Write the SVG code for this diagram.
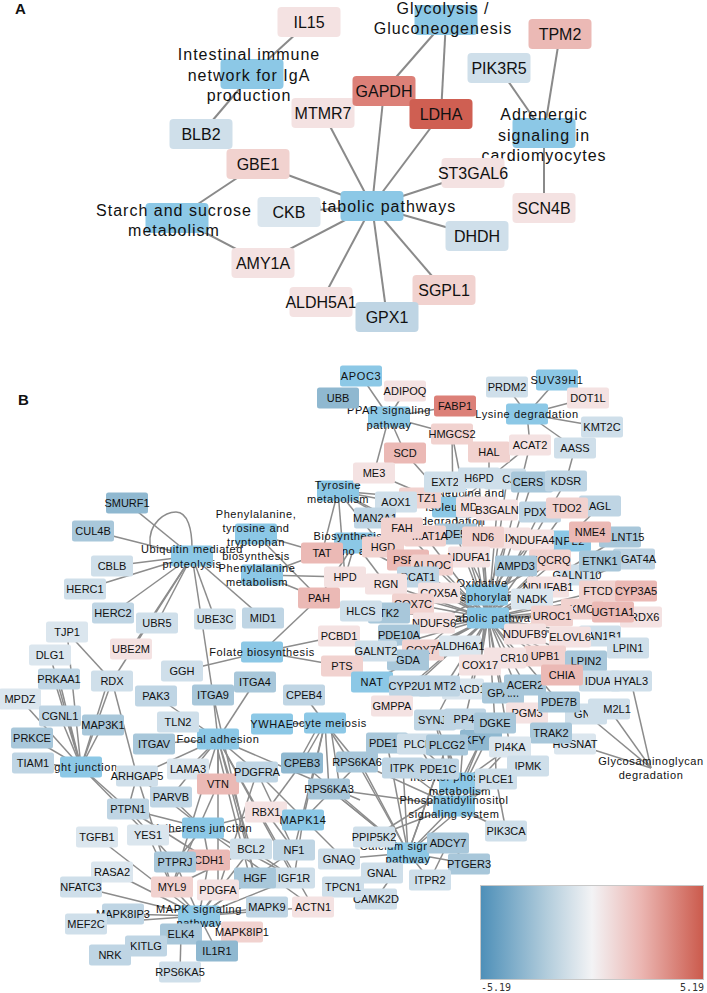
<svg xmlns="http://www.w3.org/2000/svg" width="707" height="993" viewBox="0 0 707 993">
<style>
text{font-family:"Liberation Sans",Arial,sans-serif;text-anchor:middle;dominant-baseline:central;fill:#111}
#A-nodes text{font-size:16px}
#B-nodes text{font-size:11px}
#A-nodes rect{x:-31.5px;y:-15px;width:63px;height:30px;rx:4px}
#B-nodes rect{x:-21px;y:-10.5px;width:42px;height:21px;rx:2.5px}
#A-nodes .p text{letter-spacing:1px}
#B-nodes .p text{letter-spacing:.6px}
#A-edges path{stroke:#8a8a8a;stroke-width:2;fill:none}
#B-edges path{stroke:#8c8c8c;stroke-width:1.5;fill:none}
.p rect{fill:#8cc8e6}
.b0 rect{fill:#dbe6ee}.b1 rect{fill:#cfdfea}.b2 rect{fill:#bfd5e4}.b3 rect{fill:#a8c7da}.b4 rect{fill:#8fb8d0}
.r0 rect{fill:#f4e2e2}.r1 rect{fill:#f1d2cf}.r2 rect{fill:#ebb9b5}.r3 rect{fill:#dc8078}.r4 rect{fill:#cf5f52}
.lt{font:bold 15px "Liberation Sans",Arial,sans-serif;text-anchor:start}
.sc{font:10px "DejaVu Sans Mono","Liberation Mono",monospace;fill:#333}
</style>
<defs><linearGradient id="cb"><stop offset="0" stop-color="#4d8fb8"/><stop offset=".3" stop-color="#b3cddc"/><stop offset=".5" stop-color="#f3f3f5"/><stop offset=".72" stop-color="#ebb6b2"/><stop offset="1" stop-color="#cb5a4c"/></linearGradient></defs>
<rect width="707" height="993" fill="#fff"/>
<text class="lt" x="15" y="8">A</text>
<text class="lt" x="18" y="399">B</text>
<g id="A-edges">
<path d="M309 22L252 74"/><path d="M252 74L201 134"/><path d="M446 20L384 91"/><path d="M446 20L441 114"/><path d="M499 68L544 133"/><path d="M560 34L544 133"/><path d="M544 133L544 208"/>
<path d="M323 113L372 206"/><path d="M384 91L372 206"/><path d="M441 114L372 206"/><path d="M258 164L372 206"/><path d="M473 173L372 206"/><path d="M477 236L372 206"/><path d="M444 290L372 206"/><path d="M387 317L372 206"/><path d="M321 302L372 206"/><path d="M263 263L372 206"/><path d="M289 212L372 206"/><path d="M258 164L177 218"/><path d="M263 263L177 218"/>
</g>
<g id="A-nodes">
<g id="a-glycolysis" class="p" transform="translate(446,20)"><rect/><text x="-3" y="-12">Glycolysis /</text><text x="-3" y="8">Gluconeogenesis</text></g>
<g id="a-intestinal" class="p" transform="translate(252,74)"><rect/><text x="-3" y="-20">Intestinal immune</text><text x="-3" y="1">network for IgA</text><text x="-3" y="21">production</text></g>
<g id="a-adrenergic" class="p" transform="translate(544,133)"><rect/><text y="-19">Adrenergic</text><text y="2">signaling in</text><text y="22">cardiomyocytes</text></g>
<g id="a-starch" class="p" transform="translate(177,218)"><rect/><text x="-3" y="-8">Starch and sucrose</text><text x="-3" y="12">metabolism</text></g>
<g id="a-metabolic" class="p" transform="translate(372,206)"><rect/><text x="5">Metabolic pathways</text></g>
<g id="a-IL15" class="r0" transform="translate(309,22)"><rect/><text>IL15</text></g>
<g id="a-TPM2" class="r2" transform="translate(560,34)"><rect/><text>TPM2</text></g>
<g id="a-PIK3R5" class="b1" transform="translate(499,68)"><rect/><text>PIK3R5</text></g>
<g id="a-MTMR7" class="r0" transform="translate(323,113)"><rect/><text>MTMR7</text></g>
<g id="a-GAPDH" class="r3" transform="translate(384,91)"><rect/><text>GAPDH</text></g>
<g id="a-LDHA" class="r4" transform="translate(441,114)"><rect/><text>LDHA</text></g>
<g id="a-BLB2" class="b1" transform="translate(201,134)"><rect/><text>BLB2</text></g>
<g id="a-GBE1" class="r1" transform="translate(258,164)"><rect/><text>GBE1</text></g>
<g id="a-ST3GAL6" class="r0" transform="translate(473,173)"><rect/><text>ST3GAL6</text></g>
<g id="a-CKB" class="b0" transform="translate(289,212)"><rect/><text>CKB</text></g>
<g id="a-SCN4B" class="r0" transform="translate(544,208)"><rect/><text>SCN4B</text></g>
<g id="a-DHDH" class="b1" transform="translate(477,236)"><rect/><text>DHDH</text></g>
<g id="a-AMY1A" class="r0" transform="translate(263,263)"><rect/><text>AMY1A</text></g>
<g id="a-SGPL1" class="r1" transform="translate(444,290)"><rect/><text>SGPL1</text></g>
<g id="a-ALDH5A1" class="r0" transform="translate(321,302)"><rect/><text>ALDH5A1</text></g>
<g id="a-GPX1" class="b2" transform="translate(387,317)"><rect/><text>GPX1</text></g>
</g>
<g id="B-edges">
<path d="M527 414L507 387"/><path d="M527 414L557 380"/><path d="M527 414L588 398"/><path d="M527 414L602 427"/><path d="M527 414L575 448"/><path d="M527 414L530 445"/>
<path d="M389 417L361 376"/><path d="M389 417L405 391"/><path d="M389 417L455 406"/><path d="M389 417L452 434"/><path d="M389 417L405 453"/><path d="M389 417L374 473"/>
<path d="M452 434L453 507"/><path d="M452 434L488 618"/><path d="M489 452L489 500"/><path d="M530 445L453 507"/><path d="M530 445L488 618"/><path d="M575 448L566 481"/><path d="M405 453L453 507"/><path d="M374 473L453 507"/>
<path d="M566 481L488 618"/><path d="M532 482L488 618"/><path d="M507 479L488 618"/><path d="M540 512L488 618"/><path d="M567 508L488 618"/><path d="M600 506L488 618"/><path d="M590 532L488 618"/><path d="M570 541L488 618"/><path d="M497 510L488 618"/><path d="M477 507L488 618"/><path d="M479 478L488 618"/><path d="M445 482L488 618"/><path d="M620 537L488 618"/><path d="M600 561L488 618"/><path d="M634 559L488 618"/><path d="M577 575L488 618"/><path d="M600 591L488 618"/><path d="M636 591L488 618"/><path d="M582 609L488 618"/><path d="M613 612L488 618"/><path d="M641 617L488 618"/><path d="M552 616L488 618"/><path d="M570 637L488 618"/><path d="M600 636L488 618"/><path d="M628 648L488 618"/><path d="M586 661L488 618"/><path d="M562 675L488 618"/><path d="M600 681L488 618"/><path d="M545 656L488 618"/><path d="M517 658L488 618"/><path d="M525 634L488 618"/><path d="M525 685L488 618"/><path d="M503 693L488 618"/><path d="M559 702L488 618"/><path d="M527 713L488 618"/><path d="M480 665L488 618"/><path d="M469 689L488 618"/><path d="M445 686L488 618"/><path d="M410 686L488 618"/><path d="M372 682L488 618"/><path d="M392 706L488 618"/><path d="M408 660L488 618"/><path d="M376 651L488 618"/><path d="M399 635L488 618"/><path d="M389 613L488 618"/><path d="M361 611L488 618"/><path d="M386 584L488 618"/><path d="M345 577L488 618"/><path d="M408 560L488 618"/><path d="M418 577L488 618"/><path d="M432 565L488 618"/><path d="M383 547L488 618"/><path d="M402 528L488 618"/><path d="M425 536L488 618"/><path d="M456 534L488 618"/><path d="M516 566L488 618"/><path d="M532 599L488 618"/><path d="M460 646L488 618"/><path d="M423 650L488 618"/><path d="M434 623L488 618"/><path d="M413 604L488 618"/><path d="M439 593L488 618"/><path d="M495 723L488 618"/><path d="M465 719L488 618"/><path d="M435 720L488 618"/><path d="M510 747L488 618"/><path d="M483 537L487 595"/><path d="M469 557L487 595"/><path d="M439 593L487 595"/><path d="M413 604L487 595"/><path d="M434 623L487 595"/><path d="M533 540L487 595"/><path d="M548 587L487 595"/><path d="M550 560L487 595"/><path d="M525 634L487 595"/><path d="M480 665L487 595"/><path d="M423 650L487 595"/><path d="M507 538L487 595"/>
<path d="M338 491L396 502"/><path d="M338 491L420 498"/><path d="M338 491L322 553"/><path d="M338 491L345 577"/><path d="M338 491L402 528"/><path d="M338 491L383 547"/><path d="M338 491L425 536"/><path d="M355 543L322 553"/><path d="M355 543L345 577"/><path d="M355 543L386 584"/><path d="M355 543L408 560"/><path d="M355 543L418 577"/><path d="M355 543L432 565"/><path d="M355 543L425 536"/><path d="M355 543L319 598"/>
<path d="M256 534L322 553"/><path d="M256 534L319 598"/><path d="M262 575L322 553"/><path d="M262 575L345 577"/><path d="M262 575L319 598"/><path d="M262 652L319 598"/><path d="M262 652L339 636"/><path d="M262 652L342 666"/><path d="M262 652L182 671"/>
<path d="M192 556L127 503"/><path d="M192 556L93 531"/><path d="M192 556L112 566"/><path d="M192 556L85 589"/><path d="M192 556L113 613"/><path d="M192 556L157 623"/><path d="M192 556L131 649"/><path d="M192 556L112 681"/><path d="M192 556L215 619"/><path d="M192 556L263 618"/><path d="M192 556L213 695"/><path d="M150 545C148 522 166 512 176 512C188 512 192 530 192 548"/>
<path d="M81 767L67 632"/><path d="M67 632L112 681"/><path d="M81 767L50 655"/><path d="M81 767L59 679"/><path d="M81 767L54 679"/><path d="M81 767L20 699"/><path d="M81 767L60 716"/><path d="M81 767L103 725"/><path d="M81 767L32 738"/><path d="M81 767L33 763"/><path d="M81 767L112 681"/><path d="M81 767L108 681"/><path d="M81 767L128 809"/><path d="M81 767L148 835"/><path d="M112 681L137 776"/><path d="M137 776L128 809"/><path d="M137 776L172 887"/><path d="M128 809L203 828"/><path d="M128 809L209 860"/><path d="M128 809L175 862"/><path d="M148 835L203 828"/><path d="M148 835L172 887"/>
<path d="M218 739L213 695"/><path d="M218 739L255 682"/><path d="M218 739L178 722"/><path d="M218 739L156 696"/><path d="M218 739L154 744"/><path d="M218 739L188 769"/><path d="M218 739L171 797"/><path d="M218 739L218 784"/><path d="M218 739L257 772"/><path d="M218 739L251 849"/><path d="M218 739L255 878"/><path d="M215 739L250 878"/><path d="M218 739L294 878"/><path d="M218 739L172 887"/><path d="M218 739L218 890"/><path d="M218 739L313 907"/><path d="M218 739L360 800"/><path d="M218 739L137 776"/><path d="M257 772L294 850"/><path d="M257 772L218 890"/><path d="M257 772L345 860"/><path d="M213 695L255 878"/>
<path d="M203 828L175 862"/><path d="M203 828L209 860"/><path d="M203 828L313 907"/><path d="M203 828L294 878"/><path d="M203 828L171 797"/><path d="M203 828L137 776"/><path d="M218 784L172 887"/><path d="M266 812L203 828"/><path d="M266 812L294 850"/><path d="M302 763L266 812"/><path d="M251 849L172 887"/><path d="M251 849L294 878"/>
<path d="M325 723L304 695"/><path d="M325 723L302 763"/><path d="M325 723L357 762"/><path d="M325 723L329 789"/><path d="M325 723L303 820"/><path d="M325 723L272 724"/><path d="M320 723L298 763"/><path d="M330 723L340 789"/><path d="M325 723L294 850"/><path d="M325 723L350 762"/><path d="M303 820L294 878"/><path d="M303 820L360 762"/><path d="M329 789L408 853"/><path d="M357 762L408 853"/><path d="M357 762L454 806"/><path d="M329 789L454 806"/>
<path d="M199 916L97 837"/><path d="M199 916L112 872"/><path d="M199 916L81 887"/><path d="M199 916L123 914"/><path d="M199 916L86 924"/><path d="M199 916L181 934"/><path d="M199 916L146 946"/><path d="M199 916L172 887"/><path d="M199 916L218 890"/><path d="M199 916L255 878"/><path d="M199 916L267 907"/><path d="M199 916L313 907"/><path d="M199 916L217 951"/><path d="M199 916L242 932"/><path d="M199 916L209 860"/><path d="M199 916L175 862"/><path d="M199 916L251 849"/><path d="M199 916L294 850"/><path d="M199 916L294 878"/><path d="M181 934L180 972"/><path d="M146 946L181 934"/>
<path d="M408 853L374 837"/><path d="M408 853L339 859"/><path d="M408 853L382 873"/><path d="M408 853L430 880"/><path d="M408 853L469 864"/><path d="M408 853L448 843"/><path d="M408 853L343 887"/><path d="M408 853L376 899"/><path d="M408 853L387 743"/><path d="M408 853L438 769"/><path d="M408 853L403 768"/><path d="M408 853L447 745"/><path d="M408 853L496 779"/><path d="M408 853L454 806"/><path d="M408 853L360 762"/><path d="M408 853L302 763"/><path d="M408 853L329 789"/><path d="M430 880L448 843"/><path d="M469 864L448 843"/>
<path d="M454 806L506 831"/><path d="M454 806L374 837"/><path d="M454 806L403 768"/><path d="M454 806L447 745"/><path d="M454 806L496 779"/><path d="M454 806L510 747"/><path d="M454 806L528 766"/><path d="M454 806L435 720"/><path d="M454 806L418 744"/><path d="M454 806L481 740"/><path d="M454 806L495 723"/><path d="M460 783L510 747"/><path d="M460 783L447 745"/><path d="M460 783L403 768"/><path d="M460 783L435 720"/><path d="M460 783L418 744"/><path d="M460 783L528 766"/><path d="M460 783L465 719"/><path d="M460 783L481 740"/><path d="M506 831L496 779"/><path d="M496 779L495 723"/><path d="M460 783L374 837"/>
<path d="M651 768L631 681"/><path d="M651 768L586 714"/><path d="M651 768L609 709"/><path d="M651 768L575 744"/>
</g>
<g id="B-nodes">
<g id="n-ppar" class="p" transform="translate(389,417)"><rect/><text y="-7">PPAR signaling</text><text y="8">pathway</text></g>
<g id="n-lysine" class="p" transform="translate(527,414)"><rect/><text>Lysine degradation</text></g>
<g id="n-tyrosine" class="p" transform="translate(338,491)"><rect/><text y="-6">Tyrosine</text><text y="8">metabolism</text></g>
<g id="n-valine" class="p" transform="translate(453,507)"><rect/><text y="-14">Valine, leucine and</text><text>isoleucine</text><text y="14">degradation</text></g>
<g id="n-biosyn" class="p" transform="translate(355,543)"><rect/><text y="-7">Biosynthesis of</text><text y="8">amino acids</text></g>
<g id="n-phetyr" class="p" transform="translate(256,534)"><rect/><text y="-20">Phenylalanine,</text><text y="-6">tyrosine and</text><text y="8">tryptophan</text><text y="22">biosynthesis</text></g>
<g id="n-phem" class="p" transform="translate(262,575)"><rect/><text x="-5" y="-7">Phenylalanine</text><text x="-5" y="7">metabolism</text></g>
<g id="n-oxphos" class="p" transform="translate(487,595)"><rect/><text x="-5" y="-12">Oxidative</text><text x="-3" y="2">phosphorylation</text></g>
<g id="n-metab" class="p" transform="translate(488,618)"><rect/><text x="1">Metabolic pathways</text></g>
<g id="n-ubiq" class="p" transform="translate(192,556)"><rect/><text y="-7">Ubiquitin mediated</text><text y="8">proteolysis</text></g>
<g id="n-folate" class="p" transform="translate(262,652)"><rect/><text>Folate biosynthesis</text></g>
<g id="n-tight" class="p" transform="translate(81,767)"><rect/><text>Tight junction</text></g>
<g id="n-focal" class="p" transform="translate(218,739)"><rect/><text>Focal adhesion</text></g>
<g id="n-oocyte" class="p" transform="translate(325,723)"><rect/><text>Oocyte meiosis</text></g>
<g id="n-adherens" class="p" transform="translate(203,828)"><rect/><text>Adherens junction</text></g>
<g id="n-inositol" class="p" transform="translate(460,783)"><rect/><text y="-6">Inositol phosphate</text><text y="8">metabolism</text></g>
<g id="n-pi" class="p" transform="translate(454,806)"><rect/><text y="-6">Phosphatidylinositol</text><text y="8">signaling system</text></g>
<g id="n-calcium" class="p" transform="translate(408,853)"><rect/><text y="-7">Calcium signaling</text><text y="6">pathway</text></g>
<g id="n-mapk" class="p" transform="translate(199,916)"><rect/><text y="-7">MAPK signaling</text><text y="7">pathway</text></g>
<g id="n-gag" class="p" transform="translate(651,768)"><text y="-7">Glycosaminoglycan</text><text y="7">degradation</text></g>
<g id="n-APOC3" class="p" transform="translate(361,376)"><rect/><text>APOC3</text></g>
<g id="n-UBB" class="b4" transform="translate(338,398)"><rect/><text>UBB</text></g>
<g id="n-ADIPOQ" class="r0" transform="translate(405,391)"><rect/><text>ADIPOQ</text></g>
<g id="n-FABP1" class="r3" transform="translate(455,406)"><rect/><text>FABP1</text></g>
<g id="n-PRDM2" class="b1" transform="translate(507,387)"><rect/><text>PRDM2</text></g>
<g id="n-SUV39H1" class="p" transform="translate(557,380)"><rect/><text>SUV39H1</text></g>
<g id="n-DOT1L" class="r0" transform="translate(588,398)"><rect/><text>DOT1L</text></g>
<g id="n-KMT2C" class="b1" transform="translate(602,427)"><rect/><text>KMT2C</text></g>
<g id="n-HMGCS2" class="r1" transform="translate(452,434)"><rect/><text>HMGCS2</text></g>
<g id="n-SCD" class="r2" transform="translate(405,453)"><rect/><text>SCD</text></g>
<g id="n-HAL" class="r1" transform="translate(489,452)"><rect/><text>HAL</text></g>
<g id="n-ACAT2" class="r0" transform="translate(530,445)"><rect/><text>ACAT2</text></g>
<g id="n-AASS" class="b1" transform="translate(575,448)"><rect/><text>AASS</text></g>
<g id="n-ME3" class="r0" transform="translate(374,473)"><rect/><text>ME3</text></g>
<g id="n-TZ1" class="r1" transform="translate(420,498)"><rect/><text x="7">TZ1</text></g>
<g id="n-AOX1" class="b1" transform="translate(396,502)"><rect/><text>AOX1</text></g>
<g id="n-EXT2" class="b1" transform="translate(445,482)"><rect/><text>EXT2</text></g>
<g id="n-CA" class="b1" transform="translate(505,479)"><rect/><text x="5">CA</text></g>
<g id="n-H6PD" class="b1" transform="translate(479,478)"><rect/><text>H6PD</text></g>
<g id="n-CERS" class="b3" transform="translate(532,482)"><rect/><text x="-4">CERS</text></g>
<g id="n-KDSR" class="b2" transform="translate(566,481)"><rect/><text>KDSR</text></g>
<g id="n-MAN2A1" class="b2" transform="translate(375,518)"><rect/><text>MAN2A1</text></g>
<g id="n-MDH" class="r0" transform="translate(477,507)"><rect/><text x="-4">MDH</text></g>
<g id="n-B3GALN" class="r0" transform="translate(497,510)"><rect/><text>B3GALN</text></g>
<g id="n-PDX" class="b2" transform="translate(540,512)"><rect/><text x="-5">PDX</text></g>
<g id="n-AGL" class="b2" transform="translate(600,506)"><rect/><text>AGL</text></g>
<g id="n-TDO2" class="r1" transform="translate(567,508)"><rect/><text>TDO2</text></g>
<g id="n-DE5" class="b3" transform="translate(456,534)"><rect/><text x="-4">PDE5</text></g>
<g id="n-MAT1A" class="r1" transform="translate(425,536)"><rect/><text x="5">MAT1A</text></g>
<g id="n-IX" class="r0" transform="translate(510,538)"><rect/><text>IX</text></g>
<g id="n-ND6" class="r1" transform="translate(483,537)"><rect/><text>ND6</text></g>
<g id="n-LNT15" class="b3" transform="translate(620,537)"><rect/><text>GALNT15</text></g>
<g id="n-NPL" class="p" transform="translate(570,541)"><rect/><text>NPL2</text></g>
<g id="n-NDUFA4" class="r0" transform="translate(533,540)"><rect/><text>NDUFA4</text></g>
<g id="n-NME4" class="r2" transform="translate(590,532)"><rect/><text>NME4</text></g>
<g id="n-FAH" class="r1" transform="translate(402,528)"><rect/><text>FAH</text></g>
<g id="n-HGD" class="r1" transform="translate(383,547)"><rect/><text>HGD</text></g>
<g id="n-TAT" class="r2" transform="translate(322,553)"><rect/><text>TAT</text></g>
<g id="n-NDUFA1" class="r0" transform="translate(469,557)"><rect/><text>NDUFA1</text></g>
<g id="n-PSPH" class="r2" transform="translate(408,560)"><rect/><text>PSPH</text></g>
<g id="n-ALDOC" class="r1" transform="translate(432,565)"><rect/><text>ALDOC</text></g>
<g id="n-GALNT10" class="b1" transform="translate(577,575)"><rect/><text>GALNT10</text></g>
<g id="n-UQCRQ" class="r1" transform="translate(550,560)"><rect/><text>UQCRQ</text></g>
<g id="n-AMPD3" class="b3" transform="translate(516,566)"><rect/><text>AMPD3</text></g>
<g id="n-MGAT4A" class="b2" transform="translate(634,559)"><rect/><text>MGAT4A</text></g>
<g id="n-ETNK1" class="b3" transform="translate(600,561)"><rect/><text>ETNK1</text></g>
<g id="n-HPD" class="r0" transform="translate(345,577)"><rect/><text>HPD</text></g>
<g id="n-BCAT1" class="b2" transform="translate(418,577)"><rect/><text>BCAT1</text></g>
<g id="n-RGN" class="r0" transform="translate(386,584)"><rect/><text>RGN</text></g>
<g id="n-NDUFAB1" class="r0" transform="translate(548,587)"><rect/><text>NDUFAB1</text></g>
<g id="n-NADK" class="b0" transform="translate(532,599)"><rect/><text>NADK</text></g>
<g id="n-FTCD" class="r1" transform="translate(600,591)"><rect/><text x="-2">FTCD</text></g>
<g id="n-CYP3A5" class="r2" transform="translate(636,591)"><rect/><text>CYP3A5</text></g>
<g id="n-KMO" class="r1" transform="translate(582,609)"><rect/><text>KMO</text></g>
<g id="n-PRDX6" class="r0" transform="translate(641,617)"><rect/><text>PRDX6</text></g>
<g id="n-UGT1A1" class="r2" transform="translate(613,612)"><rect/><text>UGT1A1</text></g>
<g id="n-UROC1" class="r1" transform="translate(552,616)"><rect/><text>UROC1</text></g>
<g id="n-COX5A" class="r0" transform="translate(439,593)"><rect/><text>COX5A</text></g>
<g id="n-COX7C" class="r1" transform="translate(413,604)"><rect/><text>COX7C</text></g>
<g id="n-PAH" class="r2" transform="translate(319,598)"><rect/><text>PAH</text></g>
<g id="n-TK2" class="b3" transform="translate(389,613)"><rect/><text>TK2</text></g>
<g id="n-HLCS" class="b1" transform="translate(361,611)"><rect/><text>HLCS</text></g>
<g id="n-NDUFS6" class="r0" transform="translate(434,623)"><rect/><text>NDUFS6</text></g>
<g id="n-PDE10A" class="b3" transform="translate(399,635)"><rect/><text>PDE10A</text></g>
<g id="n-PCBD1" class="r0" transform="translate(339,636)"><rect/><text>PCBD1</text></g>
<g id="n-NDUFB9" class="r0" transform="translate(525,634)"><rect/><text>NDUFB9</text></g>
<g id="n-MAN1B1" class="b1" transform="translate(600,636)"><rect/><text>MAN1B1</text></g>
<g id="n-ELOVL6" class="r0" transform="translate(570,637)"><rect/><text>ELOVL6</text></g>
<g id="n-LPIN1" class="b1" transform="translate(628,648)"><rect/><text>LPIN1</text></g>
<g id="n-COX" class="r1" transform="translate(423,650)"><rect/><text x="-2">COX7</text></g>
<g id="n-GDA" class="b3" transform="translate(408,660)"><rect/><text>GDA</text></g>
<g id="n-GALNT2" class="b1" transform="translate(376,651)"><rect/><text>GALNT2</text></g>
<g id="n-ALDH6A1" class="b0" transform="translate(460,646)"><rect/><text>ALDH6A1</text></g>
<g id="n-UPB1" class="r1" transform="translate(545,656)"><rect/><text>UPB1</text></g>
<g id="n-CR10" class="r0" transform="translate(505,658)"><rect/><text x="9">CR10</text></g>
<g id="n-PTS" class="r1" transform="translate(342,666)"><rect/><text>PTS</text></g>
<g id="n-COX17" class="r0" transform="translate(480,665)"><rect/><text>COX17</text></g>
<g id="n-LPIN2" class="b3" transform="translate(586,661)"><rect/><text>LPIN2</text></g>
<g id="n-IDUA" class="b1" transform="translate(600,681)"><rect/><text x="-2">IDUA</text></g>
<g id="n-HYAL3" class="b1" transform="translate(631,681)"><rect/><text>HYAL3</text></g>
<g id="n-NAT" class="p" transform="translate(372,682)"><rect/><text>NAT</text></g>
<g id="n-HACD1" class="b0" transform="translate(463,689)"><rect/><text x="4">HACD1</text></g>
<g id="n-MT2" class="b2" transform="translate(439,686)"><rect/><text x="6">MT2</text></g>
<g id="n-CYP2U1" class="b2" transform="translate(410,686)"><rect/><text>CYP2U1</text></g>
<g id="n-GPAM" class="b3" transform="translate(503,693)"><rect/><text>GPAM</text></g>
<g id="n-ACER2" class="b3" transform="translate(525,685)"><rect/><text>ACER2</text></g>
<g id="n-CHIA" class="r2" transform="translate(562,675)"><rect/><text>CHIA</text></g>
<g id="n-GMPPA" class="r0" transform="translate(392,706)"><rect/><text>GMPPA</text></g>
<g id="n-PGM3" class="r0" transform="translate(527,713)"><rect/><text>PGM3</text></g>
<g id="n-GNS" class="b1" transform="translate(586,714)"><rect/><text>GNS</text></g>
<g id="n-M2L1" class="b1" transform="translate(609,709)"><rect/><text x="8">M2L1</text></g>
<g id="n-PDE7B" class="b3" transform="translate(559,702)"><rect/><text>PDE7B</text></g>
<g id="n-SYNJ1" class="b2" transform="translate(435,720)"><rect/><text>SYNJ1</text></g>
<g id="n-KFY" class="b4" transform="translate(481,740)"><rect/><text x="-6">KFY</text></g>
<g id="n-PP4" class="b2" transform="translate(465,719)"><rect/><text x="-1">PP4</text></g>
<g id="n-DGKE" class="b3" transform="translate(495,723)"><rect/><text>DGKE</text></g>
<g id="n-HGSNAT" class="b0" transform="translate(575,744)"><rect/><text>HGSNAT</text></g>
<g id="n-TRAK2" class="b3" transform="translate(551,733)"><rect/><text>TRAK2</text></g>
<g id="n-PDE1A" class="b3" transform="translate(387,743)"><rect/><text>PDE1A</text></g>
<g id="n-PLC" class="b1" transform="translate(418,744)"><rect/><text>PLCE</text></g>
<g id="n-PLCG2" class="b3" transform="translate(447,745)"><rect/><text>PLCG2</text></g>
<g id="n-PI4KA" class="b0" transform="translate(510,747)"><rect/><text>PI4KA</text></g>
<g id="n-IPMK" class="b1" transform="translate(528,766)"><rect/><text>IPMK</text></g>
<g id="n-ITPK" class="b2" transform="translate(403,768)"><rect/><text x="-1">ITPK</text></g>
<g id="n-PDE1C" class="b2" transform="translate(438,769)"><rect/><text>PDE1C</text></g>
<g id="n-PLCE1" class="b1" transform="translate(496,779)"><rect/><text>PLCE1</text></g>
<g id="n-PIK3CA" class="b1" transform="translate(506,831)"><rect/><text>PIK3CA</text></g>
<g id="n-PPIP5K2" class="b1" transform="translate(374,837)"><rect/><text>PPIP5K2</text></g>
<g id="n-ADCY7" class="b3" transform="translate(448,843)"><rect/><text>ADCY7</text></g>
<g id="n-PTGER3" class="b3" transform="translate(469,864)"><rect/><text>PTGER3</text></g>
<g id="n-GNAL" class="b1" transform="translate(382,873)"><rect/><text>GNAL</text></g>
<g id="n-ITPR2" class="b1" transform="translate(430,880)"><rect/><text>ITPR2</text></g>
<g id="n-CAMK2D" class="b1" transform="translate(376,899)"><rect/><text>CAMK2D</text></g>
<g id="n-TPCN1" class="b1" transform="translate(343,887)"><rect/><text>TPCN1</text></g>
<g id="n-GNAQ" class="b1" transform="translate(339,859)"><rect/><text>GNAQ</text></g>
<g id="n-SMURF1" class="b4" transform="translate(127,503)"><rect/><text>SMURF1</text></g>
<g id="n-CUL4B" class="b3" transform="translate(93,531)"><rect/><text>CUL4B</text></g>
<g id="n-CBLB" class="b1" transform="translate(112,566)"><rect/><text>CBLB</text></g>
<g id="n-HERC1" class="b1" transform="translate(85,589)"><rect/><text>HERC1</text></g>
<g id="n-HERC2" class="b2" transform="translate(113,613)"><rect/><text>HERC2</text></g>
<g id="n-UBR5" class="b1" transform="translate(157,623)"><rect/><text>UBR5</text></g>
<g id="n-UBE3C" class="b1" transform="translate(215,619)"><rect/><text>UBE3C</text></g>
<g id="n-MID1" class="b2" transform="translate(263,618)"><rect/><text>MID1</text></g>
<g id="n-TJP1" class="b0" transform="translate(67,632)"><rect/><text>TJP1</text></g>
<g id="n-UBE2M" class="r0" transform="translate(131,649)"><rect/><text>UBE2M</text></g>
<g id="n-DLG1" class="b0" transform="translate(50,655)"><rect/><text>DLG1</text></g>
<g id="n-GGH" class="b1" transform="translate(182,671)"><rect/><text>GGH</text></g>
<g id="n-PRKAA1" class="b2" transform="translate(59,679)"><rect/><text>PRKAA1</text></g>
<g id="n-RDX" class="b1" transform="translate(112,681)"><rect/><text>RDX</text></g>
<g id="n-ITGA4" class="b3" transform="translate(255,682)"><rect/><text>ITGA4</text></g>
<g id="n-PAK3" class="b2" transform="translate(156,696)"><rect/><text>PAK3</text></g>
<g id="n-ITGA9" class="b3" transform="translate(213,695)"><rect/><text>ITGA9</text></g>
<g id="n-CPEB4" class="b2" transform="translate(304,695)"><rect/><text>CPEB4</text></g>
<g id="n-MPDZ" class="b0" transform="translate(20,699)"><rect/><text>MPDZ</text></g>
<g id="n-CGNL1" class="b2" transform="translate(60,716)"><rect/><text>CGNL1</text></g>
<g id="n-TLN2" class="b1" transform="translate(178,722)"><rect/><text>TLN2</text></g>
<g id="n-MAP3K1" class="b3" transform="translate(103,725)"><rect/><text>MAP3K1</text></g>
<g id="n-YWHAE" class="p" transform="translate(272,724)"><rect/><text>YWHAE</text></g>
<g id="n-PRKCE" class="b3" transform="translate(32,738)"><rect/><text>PRKCE</text></g>
<g id="n-ITGAV" class="b3" transform="translate(154,744)"><rect/><text>ITGAV</text></g>
<g id="n-TIAM1" class="b2" transform="translate(33,763)"><rect/><text>TIAM1</text></g>
<g id="n-LAMA3" class="b0" transform="translate(188,769)"><rect/><text>LAMA3</text></g>
<g id="n-ARHGAP5" class="b1" transform="translate(137,776)"><rect/><text>ARHGAP5</text></g>
<g id="n-RPS6KA6" class="b3" transform="translate(357,762)"><rect/><text>RPS6KA6</text></g>
<g id="n-CPEB3" class="b4" transform="translate(302,763)"><rect/><text>CPEB3</text></g>
<g id="n-VTN" class="r2" transform="translate(218,784)"><rect/><text>VTN</text></g>
<g id="n-PDGFRA" class="b2" transform="translate(257,772)"><rect/><text>PDGFRA</text></g>
<g id="n-RPS6KA3" class="b3" transform="translate(329,789)"><rect/><text>RPS6KA3</text></g>
<g id="n-PARVB" class="b2" transform="translate(171,797)"><rect/><text>PARVB</text></g>
<g id="n-PTPN1" class="b2" transform="translate(128,809)"><rect/><text>PTPN1</text></g>
<g id="n-RBX1" class="r0" transform="translate(266,812)"><rect/><text>RBX1</text></g>
<g id="n-MAPK14" class="p" transform="translate(303,820)"><rect/><text>MAPK14</text></g>
<g id="n-YES1" class="b0" transform="translate(148,835)"><rect/><text>YES1</text></g>
<g id="n-TGFB1" class="b0" transform="translate(97,837)"><rect/><text>TGFB1</text></g>
<g id="n-BCL2" class="b1" transform="translate(251,849)"><rect/><text>BCL2</text></g>
<g id="n-NF1" class="b2" transform="translate(294,850)"><rect/><text>NF1</text></g>
<g id="n-CDH1" class="r2" transform="translate(209,860)"><rect/><text>CDH1</text></g>
<g id="n-PTPRJ" class="b3" transform="translate(175,862)"><rect/><text>PTPRJ</text></g>
<g id="n-RASA2" class="b0" transform="translate(112,872)"><rect/><text>RASA2</text></g>
<g id="n-IGF1R" class="b1" transform="translate(294,878)"><rect/><text>IGF1R</text></g>
<g id="n-HGF" class="b3" transform="translate(255,878)"><rect/><text>HGF</text></g>
<g id="n-NFATC3" class="b1" transform="translate(81,887)"><rect/><text>NFATC3</text></g>
<g id="n-MYL9" class="r1" transform="translate(172,887)"><rect/><text>MYL9</text></g>
<g id="n-PDGFA" class="r0" transform="translate(218,890)"><rect/><text>PDGFA</text></g>
<g id="n-MAPK9" class="b2" transform="translate(267,907)"><rect/><text>MAPK9</text></g>
<g id="n-ACTN1" class="r0" transform="translate(313,907)"><rect/><text>ACTN1</text></g>
<g id="n-MAPK8IP3" class="b2" transform="translate(123,914)"><rect/><text>MAPK8IP3</text></g>
<g id="n-MEF2C" class="b1" transform="translate(86,924)"><rect/><text>MEF2C</text></g>
<g id="n-MAPK8IP1" class="r1" transform="translate(242,932)"><rect/><text>MAPK8IP1</text></g>
<g id="n-ELK4" class="b3" transform="translate(181,934)"><rect/><text>ELK4</text></g>
<g id="n-KITLG" class="b2" transform="translate(146,946)"><rect/><text>KITLG</text></g>
<g id="n-IL1R1" class="b4" transform="translate(217,951)"><rect/><text>IL1R1</text></g>
<g id="n-NRK" class="b2" transform="translate(110,955)"><rect/><text>NRK</text></g>
<g id="n-RPS6KA5" class="b1" transform="translate(180,972)"><rect/><text>RPS6KA5</text></g>
</g>
<g id="legend">
<rect x="480.500" y="885.500" width="223" height="94" fill="url(#cb)" stroke="#c8c8c8"/>
<text class="sc" x="481" y="987" style="text-anchor:start">-5.19</text>
<text class="sc" x="704" y="987" style="text-anchor:end">5.19</text>
</g>
</svg>
